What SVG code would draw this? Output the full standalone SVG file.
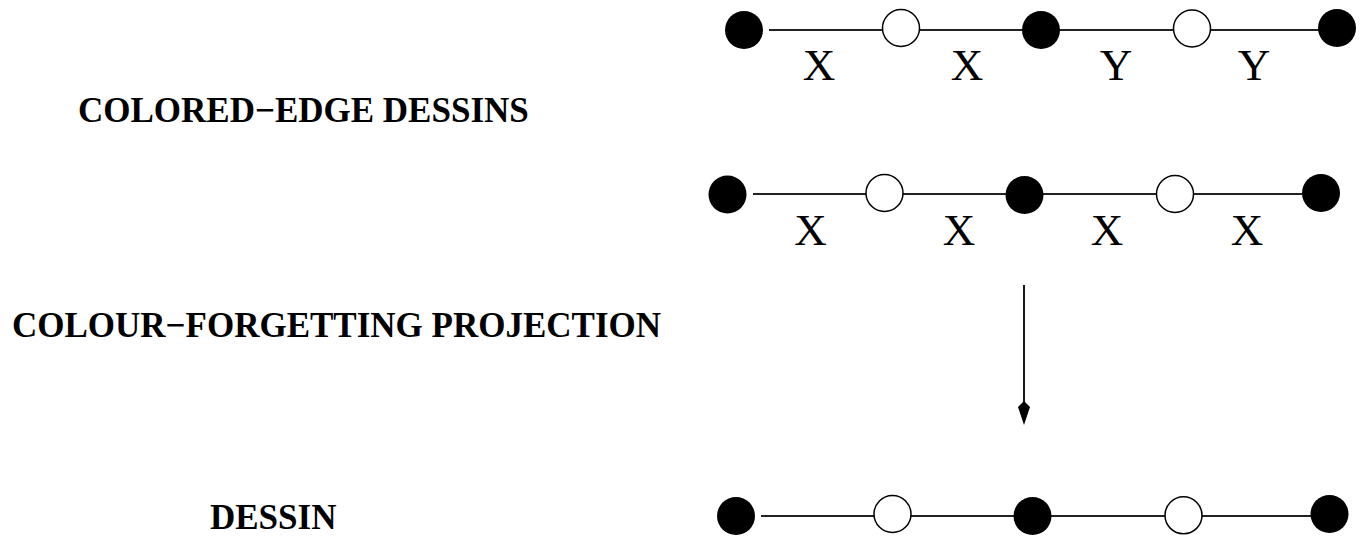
<svg xmlns="http://www.w3.org/2000/svg" width="1368" height="537" viewBox="0 0 1368 537">
  <style>
    .title { font-family: "Liberation Serif", "Times New Roman", serif; font-weight: bold; font-size: 35px; fill: #000; }
    .lbl { font-family: "Liberation Serif", "Times New Roman", serif; font-size: 45px; fill: #000; text-anchor: middle; }
    .edge { stroke: #222; stroke-width: 1.8; fill: none; }
    .black { fill: #000; }
    .white { fill: #fff; stroke: #000; stroke-width: 1.5; }
    .arrow { stroke: #000; stroke-width: 1.8; fill: none; }
  </style>

  <!-- row captions -->
  <g id="caption-colored">
    <text class="title" x="78" y="122">COLORED−EDGE DESSINS</text>
  </g>
  <g id="caption-projection">
    <text class="title" x="12" y="337">COLOUR−FORGETTING PROJECTION</text>
  </g>
  <g id="caption-dessin">
    <text class="title" x="210" y="529">DESSIN</text>
  </g>

  <!-- connectors: path edges and projection arrow -->
  <g id="connectors">
    <line class="edge" x1="769" y1="30" x2="1319" y2="30"/>
    <line class="edge" x1="753" y1="194" x2="1302" y2="194"/>
    <line class="edge" x1="761" y1="516" x2="1311" y2="516"/>
    <line class="arrow" x1="1024" y1="285" x2="1024" y2="402"/>
    <polygon points="1024,401 1030,407 1024,425 1018,407" fill="#000"/>
  </g>

  <!-- top row: colored-edge dessin with X and Y labels -->
  <g id="row1">
    <g id="r1-n1"><circle class="black" cx="744" cy="30" r="19"/></g>
    <g id="r1-n2"><circle class="white" cx="901" cy="28" r="18.5"/></g>
    <g id="r1-n3"><circle class="black" cx="1041" cy="30" r="19"/></g>
    <g id="r1-n4"><circle class="white" cx="1192" cy="28.5" r="18.5"/></g>
    <g id="r1-n5"><circle class="black" cx="1337" cy="28" r="19"/></g>
    <text class="lbl" x="819" y="80">X</text>
    <text class="lbl" x="967" y="80">X</text>
    <text class="lbl" x="1116" y="80">Y</text>
    <text class="lbl" x="1254" y="80">Y</text>
  </g>

  <!-- middle row: colored-edge dessin, all X -->
  <g id="row2">
    <g id="r2-n1"><circle class="black" cx="727.5" cy="194.5" r="19"/></g>
    <g id="r2-n2"><circle class="white" cx="884.5" cy="193" r="18.5"/></g>
    <g id="r2-n3"><circle class="black" cx="1024.5" cy="195" r="19"/></g>
    <g id="r2-n4"><circle class="white" cx="1175" cy="194" r="18.5"/></g>
    <g id="r2-n5"><circle class="black" cx="1321" cy="193" r="19"/></g>
    <text class="lbl" x="810.5" y="244.5">X</text>
    <text class="lbl" x="959" y="244.5">X</text>
    <text class="lbl" x="1107" y="244.5">X</text>
    <text class="lbl" x="1247" y="244.5">X</text>
  </g>

  <!-- bottom row: plain dessin -->
  <g id="row3">
    <g id="r3-n1"><circle class="black" cx="736" cy="516" r="19"/></g>
    <g id="r3-n2"><circle class="white" cx="892.5" cy="514" r="18.5"/></g>
    <g id="r3-n3"><circle class="black" cx="1032.5" cy="516" r="19"/></g>
    <g id="r3-n4"><circle class="white" cx="1183.5" cy="515.3" r="18.5"/></g>
    <g id="r3-n5"><circle class="black" cx="1329.5" cy="514" r="19"/></g>
  </g>
</svg>
